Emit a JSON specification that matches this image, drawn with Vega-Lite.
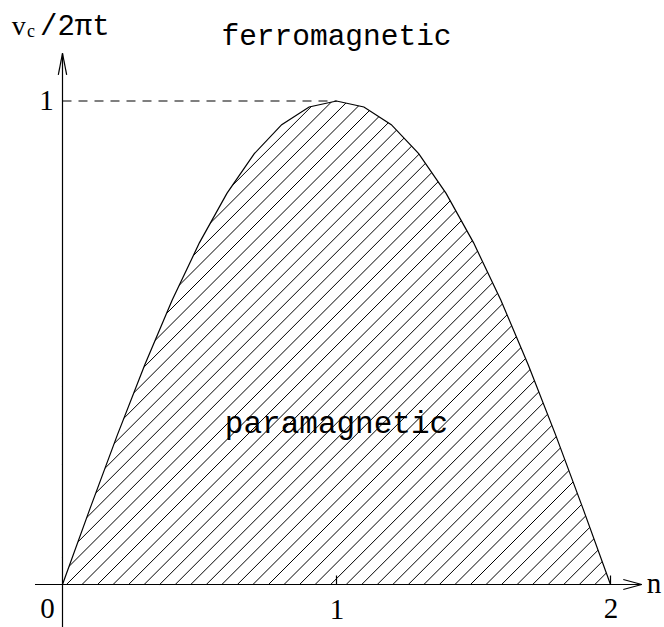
{
  "$schema": "https://vega.github.io/schema/vega-lite/v6.json",
  "width": 664,
  "height": 627,
  "padding": 0,
  "autosize": {"type": "none"},
  "background": "white",
  "config": {"view": {"stroke": null}},
  "datasets": {
    "curve": [
      {"n": 0, "v": 0}, {"n": 0.1, "v": 0.1564}, {"n": 0.2, "v": 0.309}, {"n": 0.3, "v": 0.454},
      {"n": 0.4, "v": 0.5878}, {"n": 0.5, "v": 0.7071}, {"n": 0.6, "v": 0.809}, {"n": 0.7, "v": 0.891},
      {"n": 0.8, "v": 0.9511}, {"n": 0.9, "v": 0.9877}, {"n": 1.0, "v": 1.0}, {"n": 1.1, "v": 0.9877},
      {"n": 1.2, "v": 0.9511}, {"n": 1.3, "v": 0.891}, {"n": 1.4, "v": 0.809}, {"n": 1.5, "v": 0.7071},
      {"n": 1.6, "v": 0.5878}, {"n": 1.7, "v": 0.454}, {"n": 1.8, "v": 0.309}, {"n": 1.9, "v": 0.1564},
      {"n": 2.0, "v": 0}
    ],
    "mask": [
      {"n": 0, "v": 0}, {"n": 0.1, "v": 0.1564}, {"n": 0.2, "v": 0.309}, {"n": 0.3, "v": 0.454},
      {"n": 0.4, "v": 0.5878}, {"n": 0.5, "v": 0.7071}, {"n": 0.6, "v": 0.809}, {"n": 0.7, "v": 0.891},
      {"n": 0.8, "v": 0.9511}, {"n": 0.9, "v": 0.9877}, {"n": 1.0, "v": 1.0}, {"n": 1.1, "v": 0.9877},
      {"n": 1.2, "v": 0.9511}, {"n": 1.3, "v": 0.891}, {"n": 1.4, "v": 0.809}, {"n": 1.5, "v": 0.7071},
      {"n": 1.6, "v": 0.5878}, {"n": 1.7, "v": 0.454}, {"n": 1.8, "v": 0.309}, {"n": 1.9, "v": 0.1564},
      {"n": 2.0, "v": 0}, {"n": 2.3, "v": 0}
    ],
    "hatch": [
      {"n0": 0, "v0": 0.4739, "n1": 1.3695, "v1": 1.25},
      {"n0": 0, "v0": 0.4418, "n1": 1.4262, "v1": 1.25},
      {"n0": 0, "v0": 0.4096, "n1": 1.4829, "v1": 1.25},
      {"n0": 0, "v0": 0.3775, "n1": 1.5396, "v1": 1.25},
      {"n0": 0, "v0": 0.3454, "n1": 1.5963, "v1": 1.25},
      {"n0": 0, "v0": 0.3132, "n1": 1.653, "v1": 1.25},
      {"n0": 0, "v0": 0.2811, "n1": 1.7097, "v1": 1.25},
      {"n0": 0, "v0": 0.2489, "n1": 1.7665, "v1": 1.25},
      {"n0": 0, "v0": 0.2168, "n1": 1.8232, "v1": 1.25},
      {"n0": 0, "v0": 0.1847, "n1": 1.8799, "v1": 1.25},
      {"n0": 0, "v0": 0.1525, "n1": 1.9366, "v1": 1.25},
      {"n0": 0, "v0": 0.1204, "n1": 1.9933, "v1": 1.25},
      {"n0": 0, "v0": 0.0882, "n1": 2.05, "v1": 1.25},
      {"n0": 0, "v0": 0.0561, "n1": 2.1067, "v1": 1.25},
      {"n0": 0, "v0": 0.0239, "n1": 2.1634, "v1": 1.25},
      {"n0": 0.0145, "v0": 0, "n1": 2.2203, "v1": 1.25},
      {"n0": 0.0712, "v0": 0, "n1": 2.277, "v1": 1.25},
      {"n0": 0.1279, "v0": 0, "n1": 2.3337, "v1": 1.25},
      {"n0": 0.1846, "v0": 0, "n1": 2.3904, "v1": 1.25},
      {"n0": 0.2413, "v0": 0, "n1": 2.4471, "v1": 1.25},
      {"n0": 0.298, "v0": 0, "n1": 2.5038, "v1": 1.25},
      {"n0": 0.3547, "v0": 0, "n1": 2.5605, "v1": 1.25},
      {"n0": 0.4115, "v0": 0, "n1": 2.6173, "v1": 1.25},
      {"n0": 0.4682, "v0": 0, "n1": 2.674, "v1": 1.25},
      {"n0": 0.5249, "v0": 0, "n1": 2.7307, "v1": 1.25},
      {"n0": 0.5816, "v0": 0, "n1": 2.7874, "v1": 1.25},
      {"n0": 0.6383, "v0": 0, "n1": 2.8441, "v1": 1.25},
      {"n0": 0.695, "v0": 0, "n1": 2.9008, "v1": 1.25},
      {"n0": 0.7518, "v0": 0, "n1": 2.9576, "v1": 1.25},
      {"n0": 0.8085, "v0": 0, "n1": 3.0143, "v1": 1.25},
      {"n0": 0.8652, "v0": 0, "n1": 3.071, "v1": 1.25},
      {"n0": 0.9219, "v0": 0, "n1": 3.1277, "v1": 1.25},
      {"n0": 0.9786, "v0": 0, "n1": 3.1844, "v1": 1.25},
      {"n0": 1.0353, "v0": 0, "n1": 3.2411, "v1": 1.25},
      {"n0": 1.092, "v0": 0, "n1": 3.2978, "v1": 1.25},
      {"n0": 1.1488, "v0": 0, "n1": 3.3546, "v1": 1.25},
      {"n0": 1.2055, "v0": 0, "n1": 3.4113, "v1": 1.25},
      {"n0": 1.2622, "v0": 0, "n1": 3.468, "v1": 1.25},
      {"n0": 1.3189, "v0": 0, "n1": 3.5247, "v1": 1.25},
      {"n0": 1.3756, "v0": 0, "n1": 3.5814, "v1": 1.25},
      {"n0": 1.4323, "v0": 0, "n1": 3.6381, "v1": 1.25},
      {"n0": 1.4891, "v0": 0, "n1": 3.6949, "v1": 1.25},
      {"n0": 1.5458, "v0": 0, "n1": 3.7516, "v1": 1.25},
      {"n0": 1.6025, "v0": 0, "n1": 3.8083, "v1": 1.25},
      {"n0": 1.6592, "v0": 0, "n1": 3.865, "v1": 1.25},
      {"n0": 1.7159, "v0": 0, "n1": 3.9217, "v1": 1.25},
      {"n0": 1.7726, "v0": 0, "n1": 3.9784, "v1": 1.25},
      {"n0": 1.8293, "v0": 0, "n1": 4.0351, "v1": 1.25},
      {"n0": 1.8861, "v0": 0, "n1": 4.0919, "v1": 1.25},
      {"n0": 1.9428, "v0": 0, "n1": 4.1486, "v1": 1.25}
    ],
    "axes": [
      {"n0": -0.1004, "v0": 0, "n1": 2.1139, "v1": 0},
      {"n0": 2.0467, "v0": 0.0103, "n1": 2.1139, "v1": 0},
      {"n0": 2.0467, "v0": -0.0103, "n1": 2.1139, "v1": 0},
      {"n0": 0, "v0": -0.1, "n1": 0, "v1": 1.0987},
      {"n0": -0.0153, "v0": 1.0538, "n1": 0, "v1": 1.0987},
      {"n0": 0.0153, "v0": 1.0538, "n1": 0, "v1": 1.0987},
      {"n0": 1, "v0": 0, "n1": 1, "v1": 0.0186},
      {"n0": 2, "v0": 0, "n1": 2, "v1": 0.0186}
    ],
    "guide": [
      {"n0": 0, "v0": 1, "n1": 1, "v1": 1}
    ]
  },
  "layer": [
    {
      "data": {"name": "hatch"},
      "mark": {"type": "rule", "clip": true, "stroke": "black", "strokeWidth": 1},
      "encoding": {
        "x": {"field": "n0", "type": "quantitative", "scale": {"domain": [-0.2281, 2.19526], "nice": false, "zero": false}, "axis": null},
        "y": {"field": "v0", "type": "quantitative", "scale": {"domain": [-0.0879, 1.20889], "nice": false, "zero": false}, "axis": null},
        "x2": {"field": "n1"},
        "y2": {"field": "v1"}
      }
    },
    {
      "data": {"name": "mask"},
      "mark": {"type": "area", "clip": true, "fill": "white", "opacity": 1},
      "encoding": {
        "x": {"field": "n", "type": "quantitative", "axis": null},
        "y": {"field": "v", "type": "quantitative", "axis": null},
        "y2": {"datum": 1.3}
      }
    },
    {
      "data": {"name": "curve"},
      "mark": {"type": "line", "stroke": "black", "strokeWidth": 1.2},
      "encoding": {
        "x": {"field": "n", "type": "quantitative", "axis": null},
        "y": {"field": "v", "type": "quantitative", "axis": null}
      }
    },
    {
      "data": {"name": "axes"},
      "mark": {"type": "rule", "clip": true, "stroke": "black", "strokeWidth": 1.2},
      "encoding": {
        "x": {"field": "n0", "type": "quantitative", "axis": null},
        "y": {"field": "v0", "type": "quantitative", "axis": null},
        "x2": {"field": "n1"},
        "y2": {"field": "v1"}
      }
    },
    {
      "data": {"name": "guide"},
      "mark": {"type": "rule", "stroke": "black", "strokeWidth": 1.2, "strokeDash": [9, 7]},
      "encoding": {
        "x": {"field": "n0", "type": "quantitative", "axis": null},
        "y": {"field": "v0", "type": "quantitative", "axis": null},
        "x2": {"field": "n1"},
        "y2": {"field": "v1"}
      }
    },
    {
      "data": {"values": [{"n": 1.0, "v": 1.1158, "t": "ferromagnetic"}]},
      "mark": {"type": "text", "font": "Liberation Mono", "fontSize": 29.5, "align": "center", "baseline": "alphabetic", "color": "black"},
      "encoding": {
        "x": {"field": "n", "type": "quantitative", "axis": null},
        "y": {"field": "v", "type": "quantitative", "axis": null},
        "text": {"field": "t"}
      }
    },
    {
      "data": {"values": [{"n": 1.0, "v": 0.3127, "t": "paramagnetic"}]},
      "mark": {"type": "text", "font": "Liberation Mono", "fontSize": 31, "align": "center", "baseline": "alphabetic", "color": "black"},
      "encoding": {
        "x": {"field": "n", "type": "quantitative", "axis": null},
        "y": {"field": "v", "type": "quantitative", "axis": null},
        "text": {"field": "t"}
      }
    },
    {
      "data": {"values": [{"n": -0.0821, "v": 1.1365, "t": "/2πt"}]},
      "mark": {"type": "text", "font": "Liberation Mono", "fontSize": 29, "align": "left", "baseline": "alphabetic", "color": "black"},
      "encoding": {
        "x": {"field": "n", "type": "quantitative", "axis": null},
        "y": {"field": "v", "type": "quantitative", "axis": null},
        "text": {"field": "t"}
      }
    },
    {
      "data": {"values": [{"n": -0.1854, "v": 1.1365, "t": "v"}]},
      "mark": {"type": "text", "font": "Liberation Serif", "fontSize": 28, "align": "left", "baseline": "alphabetic", "color": "black"},
      "encoding": {
        "x": {"field": "n", "type": "quantitative", "axis": null},
        "y": {"field": "v", "type": "quantitative", "axis": null},
        "text": {"field": "t"}
      }
    },
    {
      "data": {"values": [{"n": -0.1296, "v": 1.1324, "t": "c"}]},
      "mark": {"type": "text", "font": "Liberation Serif", "fontSize": 18, "align": "left", "baseline": "alphabetic", "color": "black"},
      "encoding": {
        "x": {"field": "n", "type": "quantitative", "axis": null},
        "y": {"field": "v", "type": "quantitative", "axis": null},
        "text": {"field": "t"}
      }
    },
    {
      "data": {"values": [
        {"n": -0.0547, "v": -0.0693, "t": "0"},
        {"n": 1.0018, "v": -0.0714, "t": "1"},
        {"n": 2.0018, "v": -0.0693, "t": "2"},
        {"n": -0.0584, "v": 0.9814, "t": "1"}
      ]},
      "mark": {"type": "text", "font": "Liberation Serif", "fontSize": 29, "align": "center", "baseline": "alphabetic", "color": "black"},
      "encoding": {
        "x": {"field": "n", "type": "quantitative", "axis": null},
        "y": {"field": "v", "type": "quantitative", "axis": null},
        "text": {"field": "t"}
      }
    },
    {
      "data": {"values": [{"n": 2.1321, "v": -0.0182, "t": "n"}]},
      "mark": {"type": "text", "font": "Liberation Serif", "fontSize": 29, "align": "left", "baseline": "alphabetic", "color": "black"},
      "encoding": {
        "x": {"field": "n", "type": "quantitative", "axis": null},
        "y": {"field": "v", "type": "quantitative", "axis": null},
        "text": {"field": "t"}
      }
    }
  ]
}
